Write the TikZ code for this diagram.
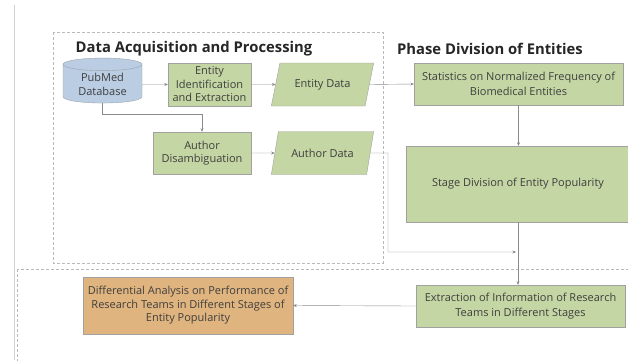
\documentclass[tikz,border=0pt]{standalone}
\usepackage{fontspec}
\setmainfont{Open Sans}
\usetikzlibrary{shapes.geometric,arrows.meta}

\definecolor{boxgreen}{HTML}{C4D6A3}
\definecolor{boxblue}{HTML}{BACDE3}
\definecolor{boxorange}{HTML}{E0B47E}
\definecolor{linegray}{HTML}{8A8A8A}
\definecolor{txtgray}{HTML}{3F3F3F}

\tikzset{
    proc/.style={draw=linegray!80, fill=boxgreen, text=txtgray, align=center,
        font=\fontsize{11}{13.5}\selectfont, inner sep=1pt},
    datashape/.style={trapezium, trapezium left angle=70, trapezium right angle=110,
        trapezium stretches=true, draw=linegray!80, fill=boxgreen, text=txtgray,
        font=\fontsize{11}{13.5}\selectfont, minimum width=103, minimum height=43},
    arr/.style={draw=linegray, -{Stealth[length=3.5pt,width=3pt]}},
    frame/.style={draw=linegray!60, dashed, dash pattern=on 3pt off 2pt},
    phase/.style={font=\fontsize{14.8}{17}\selectfont\bfseries, text=black!85}
}

\begin{document}
\begin{tikzpicture}[x=1pt, y=-1pt]
    \useasboundingbox (0,0) rectangle (628,360);

    % page edge and the two dashed regions
    \draw[black!18] (14,5) -- (14,360);
    \draw[frame] (53,32) rectangle (383,263);
    \draw[frame] (17,269) rectangle (640,372);

    \node[phase] (t1) at (194,49) {Data Acquisition and Processing};
    \node[phase] (t2) at (490,49) {Phase Division of Entities};

    % data acquisition
    \node[cylinder, shape border rotate=90, aspect=0.25, draw=boxblue!60!black!70,
        fill=boxblue, text=txtgray, align=center, font=\fontsize{11}{14}\selectfont,
        minimum width=79, minimum height=45, inner sep=1pt] (db) at (102.5,84.5) {PubMed\\Database};
    \node[proc, minimum width=83, minimum height=43] (ident) at (209.5,84.5)
        {Entity\\Identification\\and Extraction};
    \node[datashape] (edata) at (322.5,84.5) {Entity Data};
    \node[proc, minimum width=98, minimum height=42] (adis) at (202,153)
        {Author\\Disambiguation};
    \node[datashape] (adata) at (322.5,153) {Author Data};

    % phase division
    \node[proc, minimum width=209, minimum height=42, font=\fontsize{11}{15}\selectfont] (stat) at (518.5,84)
        {Statistics on Normalized Frequency of\\Biomedical Entities};
    \node[proc, minimum width=224, minimum height=76] (stage) at (518,184)
        {Stage Division of Entity Popularity};

    % research teams
    \node[proc, minimum width=209, minimum height=42, font=\fontsize{11}{15}\selectfont] (extract) at (520.5,306)
        {Extraction of Information of Research\\Teams in Different Stages};
    \node[proc, fill=boxorange, minimum width=210, minimum height=57] (diff) at (188,305.5)
        {Differential Analysis on Performance of\\Research Teams in Different Stages of\\Entity Popularity};

    \coordinate (turn) at (388,153);
    \coordinate (merge) at (516,252);

    \draw[arr] (db) -- (ident);
    \draw[arr] (ident) -- (edata);
    \draw[arr] (edata.east) -- (stat.west);
    \draw[arr] (db.south) -- ++(0,11) -| (adis.north);
    \draw[arr] (adis) -- (adata);
    \draw[arr] (adata.east) -- (turn) |- (merge);
    \draw[arr] (stat.south) -- (stat.south |- stage.north);
    \draw[arr] (stage.south) -- (stage.south |- extract.north);
    \draw[arr] (extract.west) -- (diff.east);
\end{tikzpicture}
\end{document}
